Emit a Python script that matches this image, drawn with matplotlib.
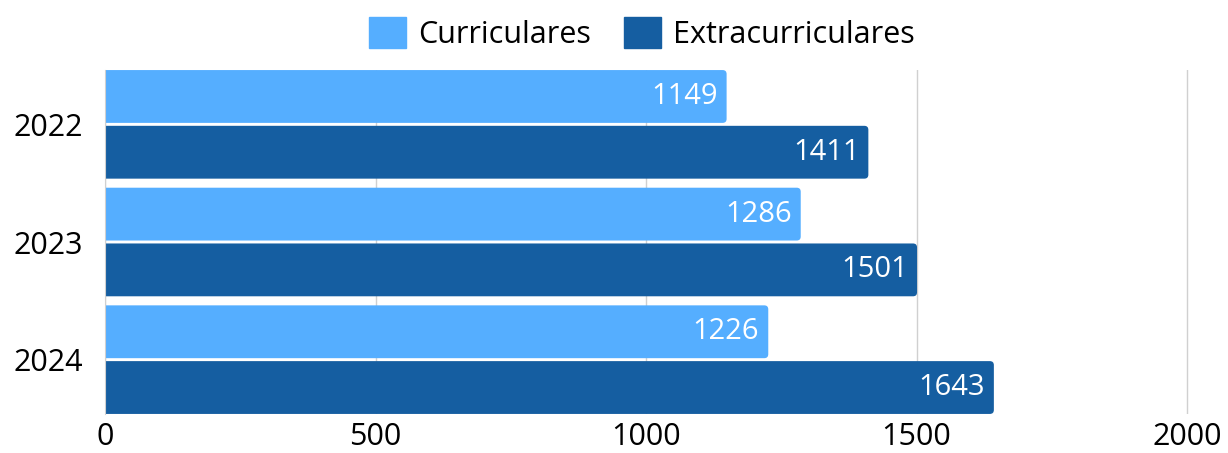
import matplotlib
matplotlib.use("Agg")
import matplotlib.pyplot as plt
from matplotlib.patches import FancyBboxPatch
import numpy as np

years = ["2022", "2023", "2024"]
series_names = ["Curriculares", "Extracurriculares"]
curriculares = [1149, 1286, 1226]
extracurriculares = [1411, 1501, 1643]
xticks = [0, 500, 1000, 1500, 2000]

colors = ["#55AEFF", "#155EA1"]

plt.rcParams['font.family'] = ['Open Sans', 'DejaVu Sans']

fig = plt.figure(figsize=(12.28, 4.53), dpi=100)
ax = fig.add_axes([105/1228, 1 - 414/453, (1189-105)/1228, (414-70)/453])

y = np.arange(len(years))
h = 0.449
off = 0.237
data = [curriculares, extracurriculares]
offsets = [-off, off]

xmax = 2000 * (1189 - 105) / (1187 - 105)
ax.set_xlim(0, xmax)
ax.set_ylim(2.462, -0.462)

bbox = ax.get_window_extent()
ux = xmax / bbox.width
uy = (2.462 + 0.462) / bbox.height
aspect = uy / ux

for vals, o, c, name in zip(data, offsets, colors, series_names):
    bars = ax.barh(y + o, vals, height=h, color=c, label=name, zorder=3)
    for b, v in zip(bars, vals):
        b.set_visible(False)
        x0, y0 = b.get_x(), b.get_y()
        w, hh = b.get_width(), b.get_height()
        r = 4 * ux
        p = FancyBboxPatch((x0 - 2 * r, y0), w + 2 * r, hh,
                           boxstyle=f"round,pad=0,rounding_size={r}",
                           mutation_aspect=aspect, facecolor=c, edgecolor="none",
                           zorder=3, clip_on=True)
        ax.add_patch(p)
        ax.text(v - 9 * ux, y0 + hh / 2, f"{v}", ha="right", va="center",
                color="white", fontsize=21, zorder=4)

ax.set_yticks(y)
ax.set_yticklabels(years, fontsize=22)
ax.set_xticks(xticks)
ax.set_xticklabels([str(t) for t in xticks], fontsize=22)
ax.tick_params(axis="both", length=0)
ax.tick_params(axis="y", pad=16)
ax.tick_params(axis="x", pad=6)

ax.grid(axis="x", color="#d0d0d0", linewidth=1, zorder=0)
for s in ["top", "right", "bottom"]:
    ax.spines[s].set_visible(False)
ax.spines["left"].set_color("#d0d0d0")
ax.spines["left"].set_zorder(5)

leg = fig.legend([plt.Rectangle((0, 0), 1, 1, color=c) for c in colors], series_names,
                 loc="upper center", bbox_to_anchor=(642/1228, 1.0), ncol=2,
                 frameon=False, fontsize=22, handlelength=1.2, handleheight=1.2,
                 handletextpad=0.4, columnspacing=1.1, borderaxespad=0.15)

fig.savefig("out.png", dpi=100)
